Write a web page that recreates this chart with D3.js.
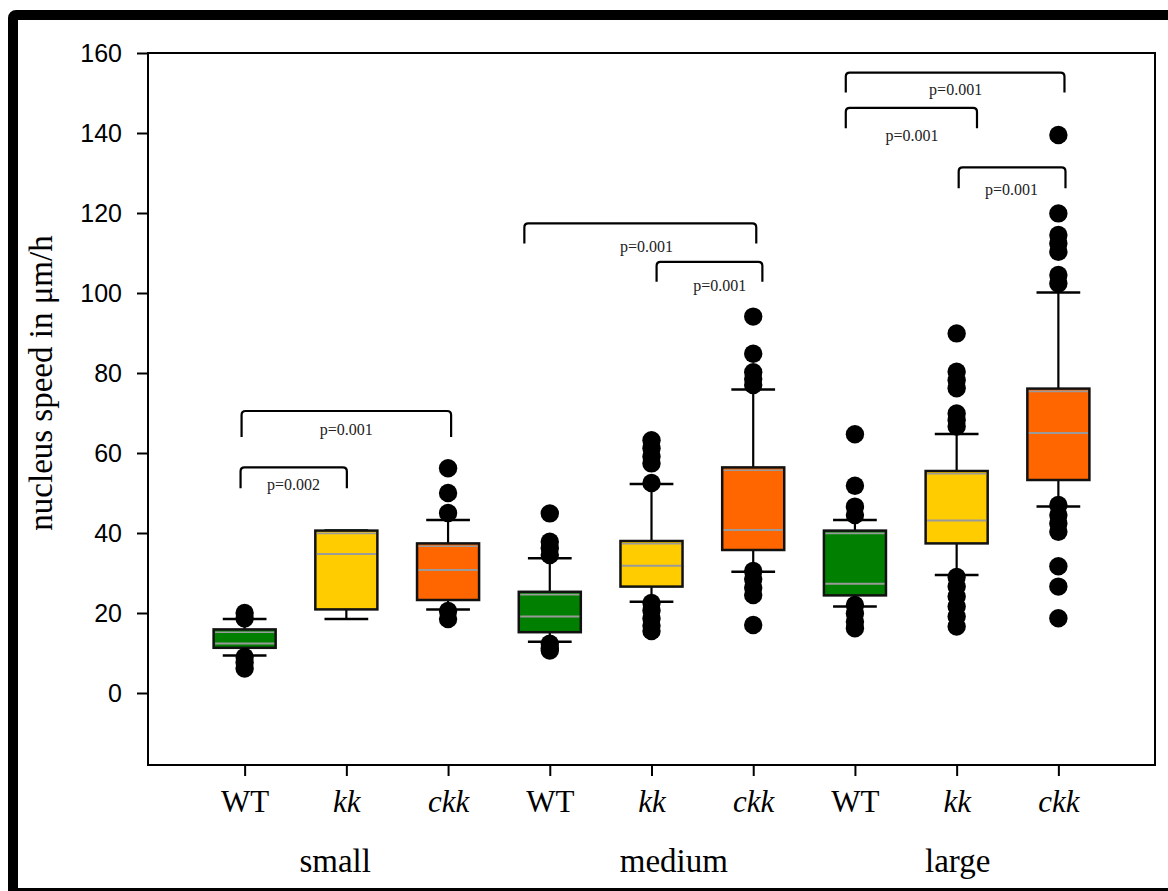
<!DOCTYPE html>
<html>
<head>
<meta charset="utf-8">
<script src="https://cdn.jsdelivr.net/npm/d3@7"></script>
<style>
  html, body { margin: 0; padding: 0; background: #fff; }
  svg { display: block; }
</style>
</head>
<body>
<div id="chart"></div>
<script>
// categories along the x axis, and the size group each one belongs to
var categories = ["WT", "kk", "ckk", "WT", "kk", "ckk", "WT", "kk", "ckk"];
var groups = ["small", "medium", "large"];
var groupLabelPos = [0.89, 4.22, 7.01];   // in category units
var yTicks = [0, 20, 40, 60, 80, 100, 120, 140, 160];

// box statistics, one entry per category (nucleus speed, µm/h)
var q1 =       [11.3, 20.9, 23.25, 15.2, 26.6, 35.75, 24.4, 37.4, 53.25];
var medians =  [12.4, 34.75, 30.75, 19.1, 31.8, 40.75, 27.3, 43.1, 65.0];
var q3 =       [15.9, 40.6, 37.4, 25.3, 38.0, 56.4, 40.6, 55.5, 76.1];
var whiskLo =  [9.4, 18.5, 20.9, 12.8, 22.8, 30.3, 21.6, 29.5, 46.6];
var whiskHi =  [18.5, 40.6, 43.25, 33.7, 52.25, 75.9, 43.25, 64.75, 100.1];

// outliers per category
var outliers = [
  [20, 18.6, 9, 7.6, 6.1],
  [],
  [56.2, 50, 45, 20.5, 18.5],
  [44.9, 37.8, 36.2, 34.5, 12.3, 11.2, 10.6],
  [63.2, 61.2, 59.1, 57.4, 52.5, 22.5, 20.6, 18.6, 16.8, 15.5],
  [94.1, 84.8, 80.2, 78.5, 77, 30.5, 28.5, 26.3, 24.5, 17],
  [64.7, 51.8, 46.6, 44.5, 22, 19.9, 17.8, 16.2],
  [89.9, 80.3, 78.2, 76.2, 69.9, 68.2, 66.6, 29, 26.6, 24.1, 21.6, 19.1, 16.6],
  [139.5, 119.9, 114.5, 112.4, 110.3, 104.5, 102.4, 47, 44.5, 42.4, 40.3, 31.7, 26.6, 18.7]
];

var genotypeColors = { "WT": "#007f00", "kk": "#ffcc00", "ckk": "#ff6600" };

// significance brackets: ends in category units, heights in data units
var brackets = [
  { x1: -0.03, x2: 2.03, top: 70.5, leg: 64.0, label: "p=0.001", lx: 1.0, ly: 65.75 },
  { x1: -0.04, x2: 1.005, top: 56.4, leg: 51.2, label: "p=0.002", lx: 0.48, ly: 52.0 },
  { x1: 2.75, x2: 5.03, top: 117.4, leg: 112.4, label: "p=0.001", lx: 3.95, ly: 111.6 },
  { x1: 4.05, x2: 5.09, top: 107.8, leg: 102.8, label: "p=0.001", lx: 4.67, ly: 101.75 },
  { x1: 5.91, x2: 8.06, top: 155.1, leg: 150.1, label: "p=0.001", lx: 6.99, ly: 150.75 },
  { x1: 5.91, x2: 7.2, top: 146.3, leg: 141.2, label: "p=0.001", lx: 6.56, ly: 139.25 },
  { x1: 7.02, x2: 8.07, top: 131.4, leg: 126.2, label: "p=0.001", lx: 7.54, ly: 125.9 }
];

var svgWidth = 1168, svgHeight = 891;
var plotLeft = 148, plotRight = 1155, plotTop = 53, plotBottom = 765;

var svg = d3.select("#chart").append("svg")
    .attr("width", svgWidth)
    .attr("height", svgHeight);

svg.append("rect").attr("width", svgWidth).attr("height", svgHeight).attr("fill", "#fff");

// outer thick frame (runs off the right and bottom edges)
svg.append("rect")
    .attr("x", 13).attr("y", 15)
    .attr("width", 1200).attr("height", 878)
    .attr("rx", 3)
    .attr("fill", "none")
    .attr("stroke", "#000")
    .attr("stroke-width", 10);

var x = d3.scaleLinear().domain([-0.95, 8.95]).range([plotLeft, plotRight]);
var y = d3.scaleLinear().domain([-18, 160]).range([plotBottom, plotTop]);
var step = x(1) - x(0);
var boxW = step * 0.61;
var capW = step * 0.43;

// plot box
svg.append("rect")
    .attr("x", plotLeft).attr("y", plotTop)
    .attr("width", plotRight - plotLeft).attr("height", plotBottom - plotTop)
    .attr("fill", "none")
    .attr("stroke", "#000")
    .attr("stroke-width", 2);

// y axis
var yAxis = svg.append("g")
    .attr("transform", "translate(" + plotLeft + ",0)")
    .call(d3.axisLeft(y).tickValues(yTicks).tickSize(11).tickSizeOuter(0).tickPadding(15));
yAxis.select(".domain").remove();
yAxis.selectAll(".tick line").attr("stroke", "#000").attr("stroke-width", 2);
yAxis.selectAll(".tick text")
    .attr("fill", "#000")
    .style("font-family", "'Liberation Sans', Arial, sans-serif")
    .style("font-size", "25px");

// x axis
var xAxis = svg.append("g")
    .attr("transform", "translate(0," + plotBottom + ")")
    .call(d3.axisBottom(x).tickValues(d3.range(categories.length)).tickSize(11).tickSizeOuter(0)
        .tickFormat(function(i) { return categories[i]; }));
xAxis.select(".domain").remove();
xAxis.selectAll(".tick line").attr("stroke", "#000").attr("stroke-width", 2);
xAxis.selectAll(".tick text")
    .attr("fill", "#000")
    .attr("y", 47)
    .attr("dy", 0)
    .style("font-family", "'Liberation Serif', 'Times New Roman', serif")
    .style("font-size", "31px")
    .style("font-style", function(i) { return categories[i] === "WT" ? "normal" : "italic"; });

// group labels
svg.append("g").selectAll("text")
    .data(groups)
    .enter().append("text")
    .attr("x", function(d, i) { return x(groupLabelPos[i]); })
    .attr("y", plotBottom + 107)
    .attr("text-anchor", "middle")
    .style("font-family", "'Liberation Serif', 'Times New Roman', serif")
    .style("font-size", "33px")
    .text(function(d) { return d; });

// y axis title
svg.append("text")
    .attr("transform", "translate(52," + ((plotTop + plotBottom) / 2 - 26) + ") rotate(-90)")
    .attr("text-anchor", "middle")
    .style("font-family", "'Liberation Serif', 'Times New Roman', serif")
    .style("font-size", "33px")
    .text("nucleus speed in \u03bcm/h");

// boxes
var boxes = svg.append("g").selectAll("g")
    .data(categories)
    .enter().append("g");

boxes.append("line")
    .attr("x1", function(d, i) { return x(i); })
    .attr("x2", function(d, i) { return x(i); })
    .attr("y1", function(d, i) { return y(whiskHi[i]); })
    .attr("y2", function(d, i) { return y(whiskLo[i]); })
    .attr("stroke", "#000").attr("stroke-width", 2.2);

boxes.append("line")
    .attr("x1", function(d, i) { return x(i) - capW / 2; })
    .attr("x2", function(d, i) { return x(i) + capW / 2; })
    .attr("y1", function(d, i) { return y(whiskHi[i]); })
    .attr("y2", function(d, i) { return y(whiskHi[i]); })
    .attr("stroke", "#000").attr("stroke-width", 2.5);

boxes.append("line")
    .attr("x1", function(d, i) { return x(i) - capW / 2; })
    .attr("x2", function(d, i) { return x(i) + capW / 2; })
    .attr("y1", function(d, i) { return y(whiskLo[i]); })
    .attr("y2", function(d, i) { return y(whiskLo[i]); })
    .attr("stroke", "#000").attr("stroke-width", 2.5);

boxes.append("rect")
    .attr("x", function(d, i) { return x(i) - boxW / 2; })
    .attr("y", function(d, i) { return y(q3[i]); })
    .attr("width", boxW)
    .attr("height", function(d, i) { return y(q1[i]) - y(q3[i]); })
    .attr("fill", function(d) { return genotypeColors[d]; })
    .attr("stroke", "#111").attr("stroke-width", 2.5);

// thin grey line just under the box top, as in the original rendering
boxes.append("line")
    .attr("x1", function(d, i) { return x(i) - boxW / 2 + 1.5; })
    .attr("x2", function(d, i) { return x(i) + boxW / 2 - 1.5; })
    .attr("y1", function(d, i) { return y(q3[i]) + 2.8; })
    .attr("y2", function(d, i) { return y(q3[i]) + 2.8; })
    .attr("stroke", "#9a9a9a").attr("stroke-width", 1.6);

boxes.append("line")
    .attr("x1", function(d, i) { return x(i) - boxW / 2 + 1.5; })
    .attr("x2", function(d, i) { return x(i) + boxW / 2 - 1.5; })
    .attr("y1", function(d, i) { return y(medians[i]); })
    .attr("y2", function(d, i) { return y(medians[i]); })
    .attr("stroke", "#9a9a9a").attr("stroke-width", 2);

// outliers
boxes.each(function(d, i) {
    d3.select(this).selectAll("circle")
        .data(outliers[i])
        .enter().append("circle")
        .attr("cx", x(i))
        .attr("cy", function(v) { return y(v); })
        .attr("r", 9.2)
        .attr("fill", "#000");
});

// significance brackets
var br = svg.append("g").selectAll("g")
    .data(brackets)
    .enter().append("g");

br.append("path")
    .attr("d", function(b) {
        var r = 4, x1 = x(b.x1), x2 = x(b.x2), yt = y(b.top), yl = y(b.leg);
        return "M" + x1 + "," + yl + "L" + x1 + "," + (yt + r) +
            "Q" + x1 + "," + yt + " " + (x1 + r) + "," + yt +
            "L" + (x2 - r) + "," + yt +
            "Q" + x2 + "," + yt + " " + x2 + "," + (yt + r) +
            "L" + x2 + "," + yl;
    })
    .attr("fill", "none")
    .attr("stroke", "#000")
    .attr("stroke-width", 2.2);

br.append("text")
    .attr("x", function(b) { return x(b.lx); })
    .attr("y", function(b) { return y(b.ly); })
    .attr("dy", "0.32em")
    .attr("text-anchor", "middle")
    .attr("fill", "#222")
    .style("font-family", "'Liberation Serif', 'Times New Roman', serif")
    .style("font-size", "16px")
    .text(function(b) { return b.label; });
</script>
</body>
</html>
